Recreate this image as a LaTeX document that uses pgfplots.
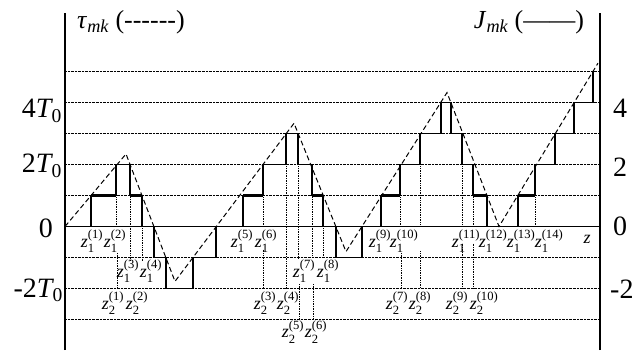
\documentclass[border=0pt]{standalone}
\usepackage{amsmath}
\usepackage{fontspec}
\setmainfont{Liberation Serif}
\usepackage{pgfplots}
\pgfplotsset{compat=1.18}
\newcommand{\To}{\ensuremath{\textit{T}_{\text{0}}}}
\newcommand{\zl}[2]{\ensuremath{\textit{z}_{\text{#1}}^{\text{(#2)}}}}
\newcommand{\tickf}{\fontsize{28bp}{30bp}\selectfont}
\newcommand{\zf}{\fontsize{18bp}{20bp}\selectfont}
\newcommand{\topf}{\fontsize{26bp}{28bp}\selectfont}
\begin{document}
\begin{tikzpicture}
\path[use as bounding box] (0,0) rectangle (643bp,354bp);
\begin{axis}[
  at={(65bp,4bp)}, anchor=south west,
  scale only axis, width=535bp, height=337bp,
  xmin=65, xmax=600, ymin=-3.984, ymax=6.887,
  axis x line=none, axis y line=box,
  axis line style={line width=1.2bp},
  xtick=\empty,
  ytick={-3,-2,-1,1,2,3,4,5},
  yticklabel=\empty,
  major tick length=0pt,
  ymajorgrids,
  grid style={densely dotted, line width=0.6bp, black},
  clip=false,
]
% zero line
\addplot[line width=1.2bp] coordinates {(65,0) (600,0)};
% dotted vertical guides
\addplot[densely dotted, line width=0.7bp] coordinates {(116,1) (116,0)};
\addplot[densely dotted, line width=0.7bp] coordinates {(117,-0.85) (117,-2)};
\addplot[densely dotted, line width=0.7bp] coordinates {(130,1) (130,-1.1)};
\addplot[densely dotted, line width=0.7bp] coordinates {(142,0) (142,-1.1)};
\addplot[densely dotted, line width=0.7bp] coordinates {(263,1) (263,0)};
\addplot[densely dotted, line width=0.7bp] coordinates {(263,-0.75) (263,-2)};
\addplot[densely dotted, line width=0.7bp] coordinates {(286,2) (286,-2)};
\addplot[densely dotted, line width=0.7bp] coordinates {(298,2) (298,-1.05)};
\addplot[densely dotted, line width=0.7bp] coordinates {(299,-1.85) (299,-3)};
\addplot[densely dotted, line width=0.7bp] coordinates {(312,1) (312,-1.0)};
\addplot[densely dotted, line width=0.7bp] coordinates {(313,-1.85) (313,-3)};
\addplot[densely dotted, line width=0.7bp] coordinates {(323,0) (323,-1)};
\addplot[densely dotted, line width=0.7bp] coordinates {(400,1) (400,0)};
\addplot[densely dotted, line width=0.7bp] coordinates {(401,-0.85) (401,-2)};
\addplot[densely dotted, line width=0.7bp] coordinates {(420,2) (420,0)};
\addplot[densely dotted, line width=0.7bp] coordinates {(420,-0.8) (420,-2)};
\addplot[densely dotted, line width=0.7bp] coordinates {(462,2) (462,0)};
\addplot[densely dotted, line width=0.7bp] coordinates {(462,-0.55) (462,-2)};
\addplot[densely dotted, line width=0.7bp] coordinates {(473,1) (473,0)};
\addplot[densely dotted, line width=0.7bp] coordinates {(473,-0.55) (473,-2)};
\addplot[densely dotted, line width=0.7bp] coordinates {(535,1) (535,0)};
% tau (dashed)
\addplot[line width=1bp, dash pattern=on 5bp off 3bp] coordinates {
 (65,0) (126,2.34) (175,-1.77) (294,3.33) (346,-0.81) (447,4.32) (499,0) (598,5.27)};
% J (steps)
\addplot[const plot, line width=1.2bp] coordinates {
 (65,0) (91,1) (116,2) (130,1) (142,0) (154,-1) (166,-2) (193,-1) (216,0)
 (243,1) (263,2) (286,3) (298,2) (312,1) (323,0) (336,-1) (362,0)
 (381,1) (400,2) (420,3) (441,4) (451,3) (462,2) (473,1) (487,0)
 (518,1) (535,2) (555,3) (574,4) (593,5)};
% bold level-1 pieces
\addplot[line width=2.6bp] coordinates {(91,1) (116,1)};
\addplot[line width=2.6bp] coordinates {(130,1) (142,1)};
\addplot[line width=2.6bp] coordinates {(243,1) (263,1)};
\addplot[line width=2.6bp] coordinates {(312,1) (323,1)};
\addplot[line width=2.6bp] coordinates {(381,1) (400,1)};
\addplot[line width=2.6bp] coordinates {(473,1) (487,1)};
\addplot[line width=2.6bp] coordinates {(518,1) (535,1)};
% left tick labels
\node[anchor=base east, inner sep=0, font=\tickf] at (axis cs:62,3.51) {4\To};
\node[anchor=base east, inner sep=0, font=\tickf] at (axis cs:62,1.74) {2\To};
\node[anchor=base east, inner sep=0, font=\tickf] at (axis cs:53,-0.36) {0};
\node[anchor=base east, inner sep=0, font=\tickf] at (axis cs:63,-2.29) {-2\To};
% right tick labels
\node[anchor=base west, inner sep=0, font=\tickf] at (axis cs:613,3.51) {4};
\node[anchor=base west, inner sep=0, font=\tickf] at (axis cs:613,1.61) {2};
\node[anchor=base west, inner sep=0, font=\tickf] at (axis cs:613,-0.29) {0};
\node[anchor=base west, inner sep=0, font=\tickf] at (axis cs:610,-2.33) {-2};
% top labels
\node[font=\topf, inner sep=0] at (axis cs:131,6.6) {\textit{τ}$_{\textit{mk}}$ (-{}-{}-{}-{}-{}-)};
\node[font=\topf, inner sep=0] at (axis cs:529,6.6) {\textit{J}$_{\textit{mk}}$ (——)};
% z labels row A
\node[font=\zf, inner sep=0] at (axis cs:92,-0.47) {\zl{1}{1}};
\node[font=\zf, inner sep=0] at (axis cs:115,-0.47) {\zl{1}{2}};
\node[font=\zf, inner sep=0] at (axis cs:242,-0.47) {\zl{1}{5}};
\node[font=\zf, inner sep=0] at (axis cs:266,-0.47) {\zl{1}{6}};
\node[font=\zf, inner sep=0] at (axis cs:380,-0.47) {\zl{1}{9}};
\node[font=\zf, inner sep=0] at (axis cs:404,-0.47) {\zl{1}{10}};
\node[font=\zf, inner sep=0] at (axis cs:466,-0.47) {\zl{1}{11}};
\node[font=\zf, inner sep=0] at (axis cs:493,-0.47) {\zl{1}{12}};
\node[font=\zf, inner sep=0] at (axis cs:521,-0.47) {\zl{1}{13}};
\node[font=\zf, inner sep=0] at (axis cs:549,-0.47) {\zl{1}{14}};
\node[font=\zf, inner sep=0] at (axis cs:587,-0.40) {\textit{z}};
% row B
\node[font=\zf, inner sep=0] at (axis cs:128,-1.44) {\zl{1}{3}};
\node[font=\zf, inner sep=0] at (axis cs:151,-1.44) {\zl{1}{4}};
\node[font=\zf, inner sep=0] at (axis cs:304,-1.44) {\zl{1}{7}};
\node[font=\zf, inner sep=0] at (axis cs:328,-1.44) {\zl{1}{8}};
% row C
\node[font=\zf, inner sep=0] at (axis cs:113,-2.47) {\zl{2}{1}};
\node[font=\zf, inner sep=0] at (axis cs:137,-2.47) {\zl{2}{2}};
\node[font=\zf, inner sep=0] at (axis cs:265,-2.47) {\zl{2}{3}};
\node[font=\zf, inner sep=0] at (axis cs:288,-2.47) {\zl{2}{4}};
\node[font=\zf, inner sep=0] at (axis cs:397,-2.47) {\zl{2}{7}};
\node[font=\zf, inner sep=0] at (axis cs:420,-2.47) {\zl{2}{8}};
\node[font=\zf, inner sep=0] at (axis cs:457,-2.47) {\zl{2}{9}};
\node[font=\zf, inner sep=0] at (axis cs:484,-2.47) {\zl{2}{10}};
% row D
\node[font=\zf, inner sep=0] at (axis cs:293,-3.40) {\zl{2}{5}};
\node[font=\zf, inner sep=0] at (axis cs:316,-3.40) {\zl{2}{6}};
\end{axis}
\end{tikzpicture}
\end{document}
